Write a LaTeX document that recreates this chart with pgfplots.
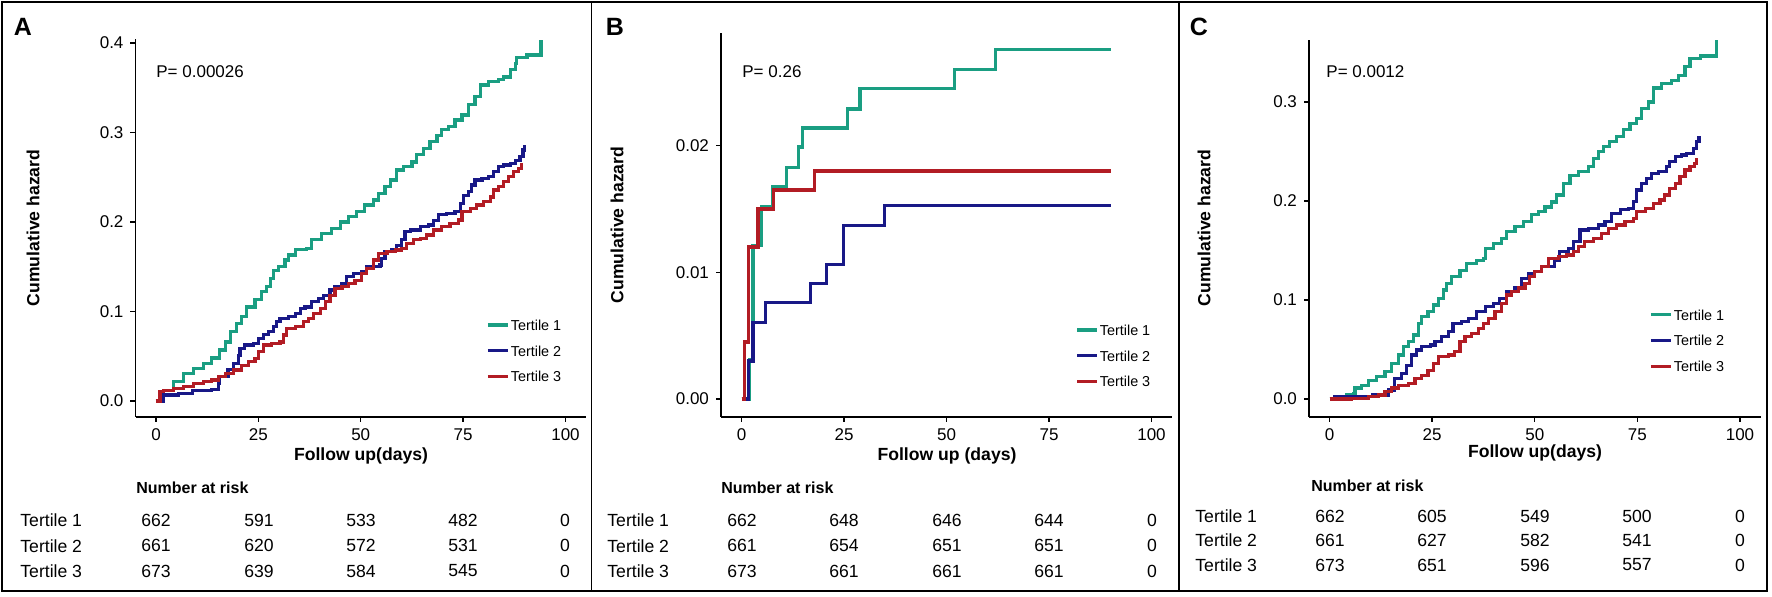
\documentclass[border=0pt]{standalone}
\usepackage{pgfplots}
\pgfplotsset{compat=1.18}
\usepackage{fontspec}
\setmainfont{Liberation Sans}

\definecolor{tone}{RGB}{26,158,130}
\definecolor{ttwo}{RGB}{24,24,135}
\definecolor{tthree}{RGB}{178,28,36}

\newcommand{\fs}[1]{\fontsize{#1}{#1}\selectfont}

\pgfplotsset{
  km/.style={
    scale only axis,
    xmin=-5, xmax=105,
    axis x line*=bottom, axis y line*=left,
    axis line style={line width=0.7pt},
    xtick={0,25,50,75,100},
    tick align=outside,
    major tick length=2.5pt,
    tick style={line width=0.7pt, black},
    every tick label/.append style={font=\fs{8.5}},
    scaled y ticks=false,
    /pgf/number format/assume math mode=true,
    clip=false,
    legend cell align=left,
    legend style={draw=none, fill=none, inner sep=0pt, row sep=6.3pt,
      font=\fs{7.2}, nodes={inner sep=0.6pt, text height=5.4pt, text depth=0pt}},
    legend image code/.code={\draw[#1] plot coordinates {(0pt,0pt) (10pt,0pt)};},
  },
  kmline/.style={const plot mark left, line width=1.6pt, no marks},
  yfix/.style={yticklabel style={/pgf/number format/fixed,
      /pgf/number format/fixed zerofill, /pgf/number format/precision=#1}},
}

\begin{document}
\begin{tikzpicture}

% ---------- panel A ----------
\begin{axis}[km, at={(67.75pt,90pt)}, anchor=south west,
  width=225.25pt, height=189pt,
  ymin=-0.0179, ymax=0.4045,
  ytick={0,0.1,0.2,0.3,0.4}, yfix=1,
  legend style={at={(axis description cs:0.778,0.262)}, anchor=north west}]
\addplot[kmline, tone] coordinates {
(0,0) (1.8,0.012) (4.2,0.0216) (6.7,0.031) (9.1,0.0365) (11.6,0.042)
(13.6,0.048) (15.6,0.057) (16.9,0.066) (18.1,0.0775) (19.7,0.087)
(20.9,0.094) (22.1,0.105) (24.2,0.113) (25.8,0.122) (27.0,0.128)
(27.9,0.137) (28.7,0.146) (29.9,0.150) (31.5,0.1575) (32.3,0.163)
(34.0,0.169) (36.8,0.1705) (38.0,0.180) (40.5,0.187) (42.9,0.193)
(45.0,0.200) (47.0,0.206) (49.0,0.2115) (51.0,0.219) (53.1,0.2246)
(54.3,0.232) (55.9,0.2395) (57.2,0.247) (58.8,0.258) (60.4,0.262)
(62.5,0.267) (63.7,0.275) (65.3,0.282) (66.9,0.290) (68.6,0.297)
(69.8,0.303) (71.4,0.3065) (73.0,0.314) (74.7,0.3195) (76.3,0.331)
(77.9,0.340) (79.2,0.353) (81.2,0.357) (83.6,0.359) (84.9,0.362)
(86.5,0.370) (87.7,0.377) (88.1,0.384) (90.6,0.3866) (94.0,0.403)
};
\addplot[kmline, ttwo] coordinates {
(0,0) (1.8,0.0067) (5.5,0.0086) (9.0,0.012) (13.6,0.013) (15.2,0.020)
(15.6,0.027) (17.6,0.035) (18.9,0.042) (20.1,0.051) (20.5,0.059)
(21.7,0.0626) (23.8,0.064) (25.0,0.070) (26.2,0.074) (27.4,0.0775)
(28.7,0.083) (29.5,0.0886) (30.3,0.092) (32.3,0.094) (34.0,0.098)
(35.2,0.1035) (36.4,0.105) (38.0,0.111) (39.7,0.1147) (40.9,0.118)
(42.5,0.124) (43.7,0.128) (45.4,0.1315) (46.6,0.139) (48.2,0.1426)
(50.2,0.1445) (51.5,0.150) (54.7,0.152) (55.1,0.159) (55.9,0.167)
(57.6,0.169) (58.8,0.174) (60.0,0.180) (60.8,0.189) (62.1,0.191)
(64.5,0.195) (66.5,0.1966) (67.8,0.202) (69.0,0.208) (71.0,0.2097)
(73.0,0.2115) (74.3,0.221) (75.1,0.230) (76.3,0.234) (77.1,0.2413)
(77.9,0.247) (79.6,0.249) (81.2,0.2507) (82.4,0.256) (83.6,0.262)
(84.9,0.2637) (86.5,0.2655) (87.7,0.269) (88.9,0.273) (89.6,0.2805)
(89.9,0.286)
};
\addplot[kmline, tthree] coordinates {
(0,0) (1.0,0.0104) (1.8,0.012) (4.2,0.014) (6.7,0.016) (9.1,0.0197)
(11.6,0.0216) (13.6,0.0235) (15.2,0.027) (16.9,0.031) (18.9,0.0346)
(20.9,0.040) (22.6,0.044) (24.2,0.0477) (25.0,0.055) (26.2,0.0626)
(28.3,0.0644) (30.3,0.066) (31.1,0.0737) (31.9,0.081) (34.0,0.083)
(36.0,0.0886) (37.2,0.092) (38.4,0.098) (40.1,0.1035) (41.3,0.111)
(42.5,0.118) (43.7,0.126) (45.4,0.128) (47.0,0.1315) (48.6,0.135)
(50.2,0.1426) (51.5,0.148) (53.1,0.1575) (54.3,0.165) (56.4,0.1669)
(58.4,0.1687) (60.0,0.1706) (61.2,0.176) (62.9,0.180) (64.5,0.1818)
(66.1,0.1855) (67.8,0.191) (69.8,0.195) (71.8,0.1985) (73.9,0.2022)
(74.7,0.2115) (76.7,0.215) (78.3,0.219) (80.0,0.2227) (81.6,0.228)
(82.4,0.2357) (83.6,0.2395) (84.9,0.245) (86.1,0.2506) (87.3,0.256)
(88.5,0.260) (89.3,0.2655)
};
\legend{Tertile 1, Tertile 2, Tertile 3}
\end{axis}

% ---------- panel B ----------
\begin{axis}[km, at={(360.5pt,90pt)}, anchor=south west,
  width=225.5pt, height=192pt,
  ymin=-0.00142, ymax=0.0289,
  ytick={0,0.01,0.02}, yfix=2,
  legend style={at={(axis description cs:0.785,0.245)}, anchor=north west}]
\addplot[kmline, tone] coordinates {
(0,0) (1.95,0.0031) (2.8,0.0121) (4.8,0.0152) (7.6,0.0168) (10.9,0.0183)
(13.9,0.0199) (14.8,0.0214) (25.9,0.0229) (28.9,0.0245) (52.0,0.0260)
(62.0,0.0276) (90.0,0.0276)
};
\addplot[kmline, ttwo] coordinates {
(0,0) (1.8,0.0030) (2.8,0.00605) (5.8,0.0076) (16.8,0.0091) (20.8,0.0106)
(24.9,0.0137) (34.9,0.0153) (90.0,0.0153)
};
\addplot[kmline, tthree] coordinates {
(0,0) (0.7,0.0045) (1.8,0.0120) (4.0,0.0150) (7.8,0.0165) (17.8,0.0180)
(90.0,0.0180)
};
\legend{Tertile 1, Tertile 2, Tertile 3}
\end{axis}

% ---------- panel C ----------
\begin{axis}[km, at={(654.5pt,90pt)}, anchor=south west,
  width=225.75pt, height=188.5pt,
  ymin=-0.0182, ymax=0.3626,
  ytick={0,0.1,0.2,0.3}, yfix=1,
  legend style={at={(axis description cs:0.753,0.29)}, anchor=north west}]
\addplot[kmline, tone] coordinates {
(0,0) (2.1,0.0024) (4.2,0.004) (5.8,0.0057) (6.2,0.011) (7.8,0.014)
(9.4,0.019) (11.5,0.0226) (13.5,0.0276) (15.1,0.036) (16.8,0.0444)
(18.0,0.053) (19.2,0.058) (20.4,0.0646) (21.6,0.0764) (22.4,0.083)
(24.0,0.088) (25.3,0.095) (26.5,0.1017) (27.7,0.110) (28.5,0.1168)
(29.7,0.1236) (31.8,0.130) (33.4,0.137) (35.8,0.140) (37.5,0.142)
(37.9,0.152) (39.9,0.157) (41.9,0.162) (43.1,0.169) (45.2,0.174)
(47.2,0.179) (49.2,0.186) (50.9,0.189) (52.5,0.194) (54.1,0.199)
(55.3,0.206) (57.0,0.218) (58.6,0.226) (60.6,0.2296) (63.0,0.2347)
(64.3,0.243) (65.5,0.250) (66.7,0.255) (68.3,0.260) (70.0,0.265)
(71.6,0.272) (73.2,0.278) (74.8,0.2835) (76.0,0.2936) (77.7,0.300)
(78.9,0.314) (80.9,0.319) (83.4,0.3215) (85.0,0.327) (86.6,0.3357)
(87.8,0.344) (90.3,0.3465) (94.2,0.3626)
};
\addplot[kmline, ttwo] coordinates {
(0,0) (1.3,0.0024) (10.5,0.004) (14.3,0.009) (15.9,0.021) (17.6,0.026)
(18.8,0.034) (20.0,0.0444) (21.2,0.0495) (22.4,0.053) (24.5,0.0545)
(25.7,0.058) (27.3,0.063) (28.9,0.068) (30.1,0.0764) (32.2,0.078)
(33.8,0.0815) (35.8,0.088) (37.9,0.093) (39.9,0.0966) (41.5,0.1017)
(43.1,0.1084) (45.2,0.112) (46.8,0.122) (48.4,0.127) (50.0,0.1286)
(51.7,0.1337) (54.9,0.140) (56.1,0.149) (58.2,0.152) (59.4,0.159)
(61.0,0.1707) (63.0,0.1724) (65.5,0.1758) (67.1,0.179) (68.7,0.1875)
(70.8,0.191) (72.8,0.1926) (74.0,0.1993) (74.8,0.211) (76.0,0.218)
(77.3,0.223) (78.5,0.228) (80.1,0.2296) (82.1,0.2347) (82.9,0.240)
(84.2,0.245) (85.8,0.2465) (87.0,0.248) (88.6,0.253) (89.4,0.260)
(90.0,0.2657)
};
\addplot[kmline, tthree] coordinates {
(0,0) (5.4,0.0007) (9.4,0.0024) (11.9,0.004) (13.5,0.0074) (15.1,0.011)
(16.8,0.014) (19.2,0.0158) (20.8,0.021) (22.4,0.024) (24.0,0.029)
(25.3,0.036) (26.5,0.0428) (28.9,0.0444) (30.5,0.0478) (31.8,0.058)
(33.0,0.063) (34.6,0.0663) (36.2,0.0714) (37.5,0.0764) (38.7,0.0815)
(40.3,0.088) (41.9,0.0966) (43.1,0.105) (44.4,0.1084) (46.0,0.112)
(47.6,0.1168) (48.8,0.1236) (50.0,0.1286) (51.7,0.1337) (53.3,0.142)
(55.7,0.1438) (57.8,0.1455) (59.4,0.1488) (60.6,0.1539) (62.2,0.159)
(64.3,0.1623) (66.3,0.1673) (67.9,0.1724) (69.9,0.1758) (72.0,0.179)
(74.0,0.1825) (74.8,0.1892) (76.9,0.1926) (78.9,0.1976) (80.5,0.201)
(81.7,0.206) (82.9,0.2128) (84.2,0.2178) (85.4,0.2246) (86.6,0.2313)
(87.8,0.2347) (89.0,0.238) (89.4,0.243)
};
\legend{Tertile 1, Tertile 2, Tertile 3}
\end{axis}

% ---------- frame, titles and risk tables (pixel grid of the reference) ----------
\begin{scope}[x=0.5pt, y=-0.5pt, yshift=298.5pt]
\useasboundingbox (0,0) rectangle (1772,597);
\draw[line width=0.9pt] (2,2) rectangle (1767,591);
\draw[line width=0.9pt] (591.5,2) -- (591.5,591);
\draw[line width=0.9pt] (1179,2) -- (1179,591);

\node[font=\fs{12.5}\bfseries] at (23,27) {A};
\node[font=\fs{12.5}\bfseries] at (615,27) {B};
\node[font=\fs{12.5}\bfseries] at (1199,27) {C};

\node[font=\fs{8.5}, anchor=west, inner sep=0pt] at (156,72) {P= 0.00026};
\node[font=\fs{8.5}, anchor=west, inner sep=0pt] at (742,72) {P= 0.26};
\node[font=\fs{8.5}, anchor=west, inner sep=0pt] at (1326,72) {P= 0.0012};

\node[font=\fs{8.8}\bfseries, rotate=90] at (33,228) {Cumulative hazard};
\node[font=\fs{8.8}\bfseries, rotate=90] at (617,225) {Cumulative hazard};
\node[font=\fs{8.8}\bfseries, rotate=90] at (1204,228) {Cumulative hazard};

\node[font=\fs{8.8}\bfseries] at (361,456) {Follow up(days)};
\node[font=\fs{8.8}\bfseries] at (947,456) {Follow up (days)};
\node[font=\fs{8.8}\bfseries] at (1535,453) {Follow up(days)};

\node[font=\fs{8}\bfseries, anchor=west, inner sep=0pt] at (136,488) {Number at risk};
\node[font=\fs{8}\bfseries, anchor=west, inner sep=0pt] at (721,488) {Number at risk};
\node[font=\fs{8}\bfseries, anchor=west, inner sep=0pt] at (1311,486) {Number at risk};

\foreach \lab/\yy in {Tertile 1/520, Tertile 2/546, Tertile 3/571} {
  \node[font=\fs{8.8}, anchor=west, inner sep=0pt] at (20,\yy) {\lab};
  \node[font=\fs{8.8}, anchor=west, inner sep=0pt] at (607,\yy) {\lab};
}
\foreach \lab/\yy in {Tertile 1/516, Tertile 2/540, Tertile 3/565}
  \node[font=\fs{8.8}, anchor=west, inner sep=0pt] at (1195,\yy) {\lab};

\foreach \a/\b/\c/\d/\e [count=\i] in {662/591/533/482/0, 661/620/572/531/0, 673/639/584/545/0} {
  \pgfmathsetmacro{\yy}{494.5+25.5*\i}
  \foreach \v/\xx in {\a/156, \b/259, \c/361, \d/463, \e/565}
    \node[font=\fs{8.8}, inner sep=0pt] at (\xx,\yy) {\v};
}
\foreach \a/\b/\c/\d/\e [count=\i] in {662/648/646/644/0, 661/654/651/651/0, 673/661/661/661/0} {
  \pgfmathsetmacro{\yy}{494.5+25.5*\i}
  \foreach \v/\xx in {\a/742, \b/844, \c/947, \d/1049, \e/1152}
    \node[font=\fs{8.8}, inner sep=0pt] at (\xx,\yy) {\v};
}
\foreach \a/\b/\c/\d/\e [count=\i] in {662/605/549/500/0, 661/627/582/541/0, 673/651/596/557/0} {
  \pgfmathsetmacro{\yy}{491.5+24.5*\i}
  \foreach \v/\xx in {\a/1330, \b/1432, \c/1535, \d/1637, \e/1740}
    \node[font=\fs{8.8}, inner sep=0pt] at (\xx,\yy) {\v};
}
\end{scope}

\end{tikzpicture}
\end{document}
